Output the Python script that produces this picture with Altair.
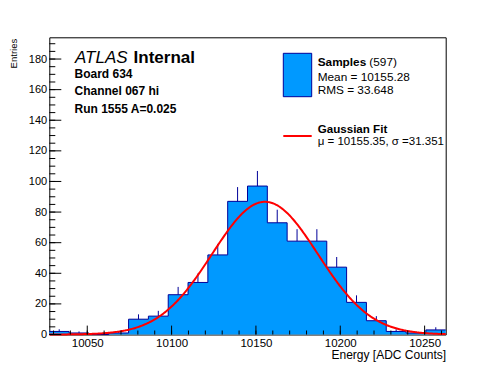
import altair as alt
import pandas as pd

# ---- data ----
x_min, x_max = 10027.5, 10262.5
counts = [2, 1, 0, 1, 10, 12, 26, 34, 52, 87, 97, 73, 61, 61, 44, 21, 9, 2, 1, 3]
x_tick_values = [10050, 10100, 10150, 10200, 10250]
x_minor_values = list(range(10030, 10261, 10))
y_tick_values = [0, 20, 40, 60, 80, 100, 120, 140, 160, 180]
y_minor_values = list(range(0, 195, 5))
y_max = 194.2
fit_mu, fit_sigma, fit_amp = 10155.35, 31.351, 86.7

FILL = "#0099ff"
EDGE = "#000099"
FONT = "Liberation Sans"
W, H = 396.4, 297.2

nb = len(counts)
bw = (x_max - x_min) / nb
lo = [x_min + i * bw for i in range(nb)]
hi = [x_min + (i + 1) * bw for i in range(nb)]
hist = pd.DataFrame({"lo": lo, "hi": hi, "count": counts,
                     "center": [(a + b) / 2 for a, b in zip(lo, hi)]})
step = pd.DataFrame({"x": lo + [x_max], "y": counts + [counts[-1]]})

xs = alt.Scale(domain=[x_min, x_max], nice=False, zero=False)
ys = alt.Scale(domain=[0, y_max], nice=False, zero=False)

xaxis = alt.Axis(values=x_tick_values, format="d", tickSize=0, domain=False, grid=False,
                 labelFontSize=11.5, labelPadding=3, labelFont=FONT, labelColor="black",
                 labelFlush=False, labelOverlap=False,
                 title="Energy [ADC Counts]", titleFont=FONT, titleFontSize=12,
                 titleFontWeight="normal", titleColor="black", titleAnchor="end",
                 titleAlign="right", titleBaseline="alphabetic", titleX=W, titleY=24)
yaxis = alt.Axis(values=y_tick_values, format="d", tickSize=0, domain=False, grid=False,
                 labelFontSize=11, labelPadding=2.6, labelFont=FONT, labelColor="black",
                 labelFlush=False, labelOverlap=False,
                 title="Entries", titleFont=FONT, titleFontSize=9.5, titleFontWeight="normal",
                 titleColor="black", titleAngle=270, titleAlign="right",
                 titleBaseline="alphabetic", titleX=-33.3, titleY=1)


def X(field):
    return alt.X(field, scale=xs, axis=xaxis)


def Y(field):
    return alt.Y(field, scale=ys, axis=yaxis)


fill = alt.Chart(step).mark_area(interpolate="step-after", color=FILL, opacity=1).encode(
    x=X("x:Q"), y=Y("y:Q"), y2=alt.datum(0),
)

errs = alt.Chart(hist).transform_filter("datum.count > 0").transform_calculate(
    up="datum.count + sqrt(datum.count)"
).mark_rule(color=EDGE, strokeWidth=1).encode(
    x=X("center:Q"), y=Y("count:Q"), y2="up:Q",
)

outline = alt.Chart(step).mark_line(interpolate="step-after", color=EDGE, strokeWidth=1).encode(
    x=X("x:Q"), y=Y("y:Q"),
)

fit = alt.Chart(alt.sequence(x_min, x_max + 0.01, 0.5, as_="x")).transform_calculate(
    y=f"{fit_amp} * exp(-0.5 * pow((datum.x - {fit_mu}) / {fit_sigma}, 2))"
).mark_line(color="red", strokeWidth=2).encode(
    x=X("x:Q"), y=Y("y:Q"),
)


def xticks(vals, length):
    return alt.Chart(pd.DataFrame({"v": vals})).mark_rule(color="black", strokeWidth=1).encode(
        x=X("v:Q"), y=alt.value(H), y2=alt.value(H - length))


def yticks(vals, length):
    return alt.Chart(pd.DataFrame({"v": vals})).mark_rule(color="black", strokeWidth=1).encode(
        y=Y("v:Q"), x=alt.value(0), x2=alt.value(length))


one = pd.DataFrame({"t": [""]})


def label(text, x, y, size, weight="normal", style="normal", align="left"):
    return alt.Chart(one).mark_text(text=text, font=FONT, fontSize=size, fontWeight=weight,
                                    fontStyle=style, align=align, baseline="alphabetic",
                                    color="black").encode(x=alt.value(x), y=alt.value(y))


leg_box = alt.Chart(one).mark_rect(fill=FILL, stroke=EDGE, strokeWidth=1).encode(
    x=alt.value(234), x2=alt.value(262.4), y=alt.value(16), y2=alt.value(59.4))
leg_line = alt.Chart(one).mark_rule(color="red", strokeWidth=2).encode(
    x=alt.value(234), x2=alt.value(262.4), y=alt.value(98.7))

texts = [
    label("ATLAS", 25.7, 25.4, 17, style="italic"),
    label("Internal", 145.7, 25.4, 17, weight="bold", align="right"),
    label("Board 634", 25.2, 40.4, 12, weight="bold"),
    label("Channel 067 hi", 25.2, 57.7, 12, weight="bold"),
    label("Run 1555 A=0.025", 25.2, 75.4, 12, weight="bold"),
    label("Samples", 268.4, 28.4, 11.8, weight="bold"),
    label("(597)", 347.6, 28.4, 11.8, align="right"),
    label("Mean = 10155.28", 268.4, 43.4, 11.8),
    label("RMS = 33.648", 268.4, 57.0, 11.8),
    label("Gaussian Fit", 268.4, 95.6, 11.6, weight="bold"),
    label("\u03bc = 10155.35, \u03c3 =31.351", 268.4, 107.6, 11.5),
]

chart = alt.layer(
    fill, errs, outline, fit,
    xticks(x_minor_values, 4), xticks(x_tick_values, 8.9),
    yticks(y_minor_values, 6), yticks(y_tick_values, 12),
    leg_box, leg_line, *texts,
).properties(
    width=W, height=H,
    padding={"left": 41.3, "top": 29.3, "right": 42.3, "bottom": 29.5},
    autosize=alt.AutoSizeParams(type="none"),
    background="white",
).configure_view(stroke="black", strokeWidth=1)

chart.save("out.html", embed_options={"renderer": "svg", "actions": False})
